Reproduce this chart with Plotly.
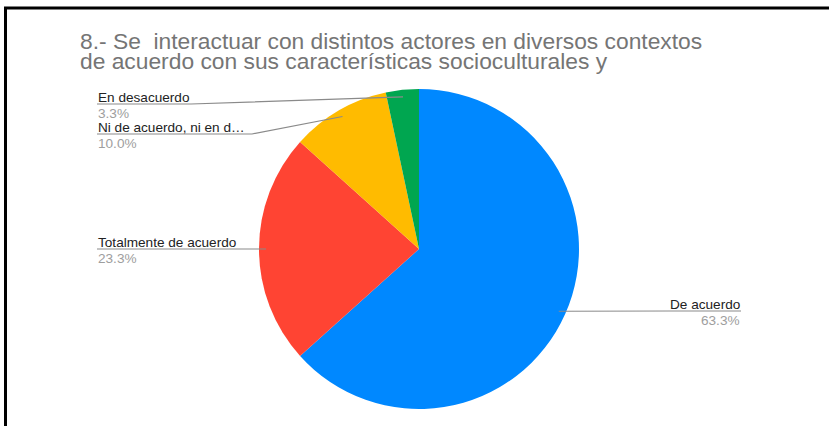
import math
import plotly.graph_objects as go

# ---------------- data ----------------
categories = ["De acuerdo", "Totalmente de acuerdo",
              "Ni de acuerdo, ni en desacuerdo", "En desacuerdo"]
display_labels = ["De acuerdo", "Totalmente de acuerdo",
                  "Ni de acuerdo, ni en d\u2026", "En desacuerdo"]
counts = [19, 7, 3, 1]
colors = ["#0088ff", "#ff4433", "#ffbb00", "#00a650"]
title_lines = ["8.- Se  interactuar con distintos actores en diversos contextos",
               "de acuerdo con sus características socioculturales y"]

# ---------------- layout constants (pixels) ----------------
W, H = 829, 426
CX, CY, R = 419, 249, 160
DOT_R = 153
FONT = "Arial, Liberation Sans, sans-serif"

# label placement per category: side, anchor x, line y, end of underline
label_pos = {
    "De acuerdo": dict(side="right", x=741, line_y=311, x_end=670),
    "Totalmente de acuerdo": dict(side="left", x=97, line_y=249, x_end=238),
    "Ni de acuerdo, ni en desacuerdo": dict(side="left", x=97, line_y=134, x_end=252),
    "En desacuerdo": dict(side="left", x=97, line_y=104, x_end=191),
}

total = sum(counts)

fig = go.Figure()
fig.add_trace(go.Pie(
    labels=categories, values=counts, sort=False, direction="clockwise",
    rotation=0, marker=dict(colors=colors, line=dict(width=0)),
    textinfo="none", showlegend=False,
    domain=dict(x=[(CX - R) / W, (CX + R) / W],
                y=[(H - CY - R) / H, (H - CY + R) / H]),
))

# leader dots computed from slice mid-angles
dot_x, dot_y = [], []
cum = 0
for v in counts:
    th = 2 * math.pi * (cum + v / 2) / total
    dot_x.append(CX + DOT_R * math.sin(th))
    dot_y.append(CY - DOT_R * math.cos(th))
    cum += v

shapes = []
annotations = []
for cat, disp, v, dx, dy in zip(categories, display_labels, counts, dot_x, dot_y):
    p = label_pos[cat]
    ly = p["line_y"]
    shapes.append(dict(type="path", xref="x", yref="y",
                       path=f"M {p['x']},{ly} L {p['x_end']},{ly} L {dx:.2f},{dy:.2f}",
                       line=dict(color="#8a8a8a", width=1.2)))
    xa = "left" if p["side"] == "left" else "right"
    annotations.append(dict(xref="x", yref="y", x=p["x"], y=ly + 1.5, text=disp,
                            xanchor=xa, yanchor="bottom", showarrow=False, borderpad=0,
                            font=dict(family=FONT, size=13.6, color="#222222")))
    annotations.append(dict(xref="x", yref="y", x=p["x"], y=ly + 0.5, text=f"{100 * v / total:.1f}%",
                            xanchor=xa, yanchor="top", showarrow=False, borderpad=0,
                            font=dict(family=FONT, size=13.6, color="#9e9e9e")))

fig.add_trace(go.Scatter(x=dot_x, y=dot_y, mode="markers",
                         marker=dict(size=5, color="#8a8a8a"),
                         hoverinfo="skip", showlegend=False))

# title lines
for i, t in enumerate(title_lines):
    annotations.append(dict(xref="x", yref="y", x=79, y=41 + 20 * i, text=t,
                            xanchor="left", yanchor="middle", showarrow=False, borderpad=0,
                            font=dict(family=FONT, size=22.8, color="#757575")))

# frame border
shapes.append(dict(type="line", xref="x", yref="y", x0=4, x1=W, y0=8, y1=8,
                   line=dict(color="#000000", width=3)))
shapes.append(dict(type="line", xref="x", yref="y", x0=5.5, x1=5.5, y0=7, y1=H,
                   line=dict(color="#000000", width=3)))

fig.update_layout(
    width=W, height=H, margin=dict(l=0, r=0, t=0, b=0),
    paper_bgcolor="white", plot_bgcolor="rgba(0,0,0,0)",
    xaxis=dict(range=[0, W], visible=False, domain=[0, 1], fixedrange=True),
    yaxis=dict(range=[H, 0], visible=False, domain=[0, 1], fixedrange=True),
    shapes=shapes, annotations=annotations,
)

fig.write_html("out.html")
